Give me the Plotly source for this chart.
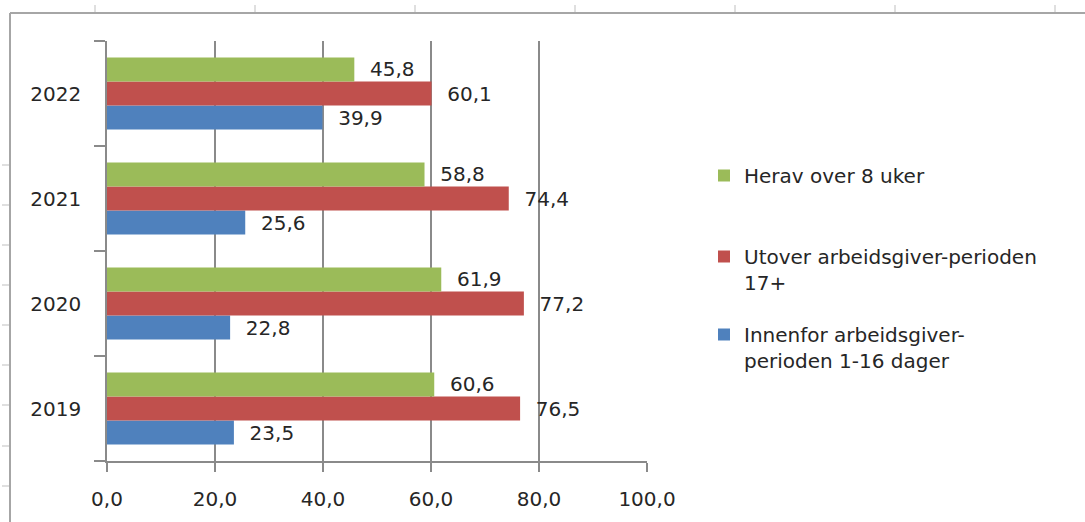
import plotly.graph_objects as go

years = ["2019", "2020", "2021", "2022"]
innenfor = [23.5, 22.8, 25.6, 39.9]
utover = [76.5, 77.2, 74.4, 60.1]
herav = [60.6, 61.9, 58.8, 45.8]

names = ["Innenfor arbeidsgiver-<br>perioden 1-16 dager",
         "Utover arbeidsgiver-perioden<br>17+",
         "Herav over 8 uker"]
colors = ["#4F81BD", "#C0504D", "#9BBB59"]
x_ticks = [0, 20, 40, 60, 80, 100]

W, H = 1085, 522
L, R, T, B = 107, 647, 41, 461
FONT = "DejaVu Sans"
FS = 20
TXT = "#262626"
GRID = "#8a8a8a"


def px(x):
    return (x - L) / (R - L)


def py(y):
    return (B - y) / (B - T)


fig = go.Figure()
legends = ["legend3", "legend2", "legend"]
for vals, name, col, lg in zip([innenfor, utover, herav], names, colors, legends):
    fig.add_trace(go.Bar(
        y=years, x=vals, orientation="h", name=name,
        marker=dict(color=col, line=dict(width=0)),
        texttemplate="\u00a0\u00a0%{x:.1f}", textposition="outside",
        textfont=dict(family=FONT, size=FS, color=TXT),
        cliponaxis=False, legend=lg,
    ))

shapes = []
# chart frame (top and left border)
shapes.append(dict(type="line", xref="paper", yref="paper", x0=px(10), x1=px(1090),
                   y0=py(13), y1=py(13), line=dict(color="#a6a6a6", width=2)))
shapes.append(dict(type="line", xref="paper", yref="paper", x0=px(10), x1=px(10),
                   y0=py(13), y1=py(530), line=dict(color="#a6a6a6", width=2)))
# spreadsheet cell grid stubs
for gx in [95, 255, 415, 575, 735, 895, 1055]:
    shapes.append(dict(type="line", xref="paper", yref="paper", x0=px(gx), x1=px(gx),
                       y0=py(5), y1=py(12), line=dict(color="#d4d4d4", width=1.5)))
for gy in [165, 205, 245, 285, 325, 365, 405, 446, 486]:
    shapes.append(dict(type="line", xref="paper", yref="paper", x0=px(2), x1=px(9),
                       y0=py(gy), y1=py(gy), line=dict(color="#d4d4d4", width=1.5)))

leg_common = dict(font=dict(family=FONT, size=FS, color=TXT), bgcolor="rgba(0,0,0,0)",
                  xanchor="left", yanchor="top", valign="top", itemclick=False)

fig.update_layout(
    width=W, height=H,
    margin=dict(l=L, r=W - R, t=T, b=H - B),
    paper_bgcolor="white", plot_bgcolor="white",
    separators=",.",
    barmode="group", bargap=0.314, bargroupgap=0,
    font=dict(family=FONT, size=FS, color=TXT),
    xaxis=dict(range=[0, 100], tickvals=x_ticks, tickformat=".1f",
               showgrid=True, gridcolor=GRID, gridwidth=1.5,
               showline=True, linecolor=GRID, linewidth=1.5,
               ticks="outside", ticklen=9, tickcolor=GRID, tickwidth=1.5,
               zeroline=False, ticklabelstandoff=10,
               tickfont=dict(family=FONT, size=FS, color=TXT)),
    yaxis=dict(type="category", categoryorder="array", categoryarray=years,
               tickson="boundaries", ticks="outside", ticklen=11,
               tickcolor=GRID, tickwidth=1.5,
               showline=True, linecolor=GRID, linewidth=1.5, showgrid=False,
               ticklabelstandoff=20,
               tickfont=dict(family=FONT, size=FS, color=TXT)),
    legend=dict(x=px(704), y=py(156), **leg_common),
    legend2=dict(x=px(704), y=py(237), **leg_common),
    legend3=dict(x=px(704), y=py(315), **leg_common),
    shapes=shapes,
    showlegend=True,
)

fig.write_html("out.html", config={"displayModeBar": False},
               post_script="document.body.style.margin='0';")
